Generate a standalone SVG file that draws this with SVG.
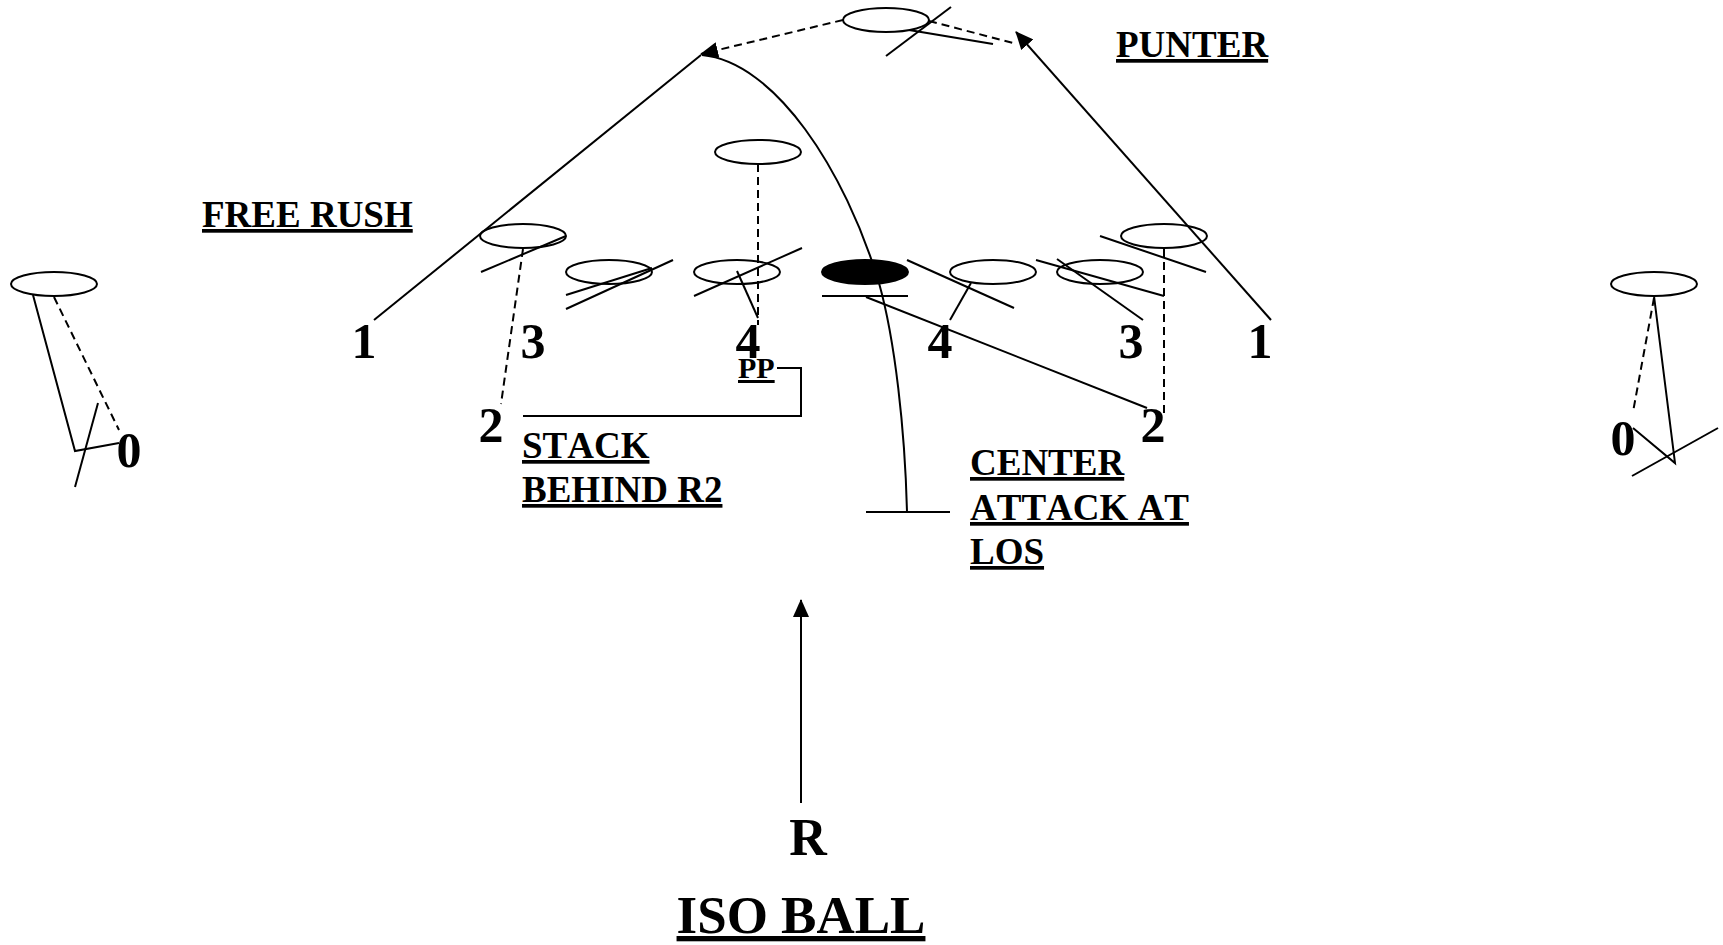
<svg xmlns="http://www.w3.org/2000/svg" width="1723" height="945" viewBox="0 0 1723 945">
<style>
.pl{fill:none;stroke:#000;stroke-width:2}
.ln{fill:none;stroke:#000;stroke-width:2}
.ds{fill:none;stroke:#000;stroke-width:2;stroke-dasharray:8,5}
.t{font-family:"Liberation Serif","Times New Roman",serif;font-weight:bold;fill:#000;font-kerning:none}
.num{font-size:50px;text-anchor:middle}
.lab{font-size:37px;text-decoration:underline}
</style>
<defs>
<marker id="ah" markerUnits="userSpaceOnUse" markerWidth="18" markerHeight="16" viewBox="0 0 18 16" refX="17" refY="8" orient="auto">
<path d="M0,0 L18,8 L0,16 Z" fill="#000"/>
</marker>
</defs>
<rect width="1723" height="945" fill="#fff"/>

<g id="connectors">
<line class="ln" x1="374" y1="320" x2="701" y2="55"/>
<line class="ds" x1="843" y1="20" x2="701" y2="54" marker-end="url(#ah)"/>
<line class="ds" x1="929" y1="21" x2="1017" y2="44"/>
<line class="ln" x1="1271" y1="320" x2="1016" y2="32" marker-end="url(#ah)"/>
<path class="ln" d="M702,55 C775,62 845,170 879,283 C895,340 905,430 907,512"/>
<line class="ln" x1="866" y1="512" x2="950" y2="512"/>
<line class="ln" x1="866" y1="297" x2="1147" y2="408"/>
<line class="ln" x1="801" y1="803" x2="801" y2="600" marker-end="url(#ah)"/>
<polyline class="ln" points="777,368 801,368 801,416 523,416"/>
<line class="ds" x1="523" y1="249" x2="501" y2="404"/>
<line class="ds" x1="758" y1="164" x2="758" y2="325"/>
<line class="ds" x1="1164" y1="249" x2="1164" y2="413"/>
<line class="ds" x1="54" y1="297" x2="119" y2="430"/>
<line class="ds" x1="1654" y1="298" x2="1633" y2="412"/>
</g>

<g id="punter">
<ellipse class="pl" cx="886" cy="20" rx="43" ry="12"/>
<line class="ln" x1="886" y1="56" x2="951" y2="7"/>
<line class="ln" x1="909" y1="30" x2="993" y2="44"/>
</g>
<g id="pp-back">
<ellipse class="pl" cx="758" cy="152" rx="43" ry="12"/>
</g>
<g id="left-3">
<ellipse class="pl" cx="523" cy="236" rx="43" ry="12"/>
<line class="ln" x1="481" y1="272" x2="566" y2="236"/>
</g>
<g id="left-e2">
<ellipse class="pl" cx="609" cy="272" rx="43" ry="12"/>
<line class="ln" x1="566" y1="295" x2="652" y2="268"/>
<line class="ln" x1="566" y1="309" x2="673" y2="260"/>
</g>
<g id="left-4">
<ellipse class="pl" cx="737" cy="272" rx="43" ry="12"/>
<line class="ln" x1="694" y1="296" x2="802" y2="248"/>
<line class="ln" x1="737" y1="271" x2="758" y2="318"/>
</g>
<g id="center">
<ellipse cx="865" cy="272" rx="43" ry="12" fill="#000" stroke="#000" stroke-width="2"/>
<line class="ln" x1="822" y1="296" x2="908" y2="296"/>
</g>
<g id="right-4">
<ellipse class="pl" cx="993" cy="272" rx="43" ry="12"/>
<line class="ln" x1="907" y1="260" x2="1014" y2="308"/>
<line class="ln" x1="971" y1="283" x2="950" y2="320"/>
</g>
<g id="right-3">
<ellipse class="pl" cx="1100" cy="272" rx="43" ry="12"/>
<line class="ln" x1="1036" y1="260" x2="1164" y2="296"/>
<line class="ln" x1="1057" y1="259" x2="1143" y2="320"/>
</g>
<g id="right-2">
<ellipse class="pl" cx="1164" cy="236" rx="43" ry="12"/>
<line class="ln" x1="1100" y1="236" x2="1206" y2="272"/>
</g>
<g id="left-0">
<ellipse class="pl" cx="54" cy="284" rx="43" ry="12"/>
<polyline class="ln" points="33,295 75,451 119,443"/>
<line class="ln" x1="98" y1="403" x2="75" y2="487"/>
<text class="t num" x="129" y="467">0</text>
</g>
<g id="right-0">
<ellipse class="pl" cx="1654" cy="284" rx="43" ry="12"/>
<polyline class="ln" points="1654,296 1675,463 1633,428"/>
<line class="ln" x1="1632" y1="476" x2="1718" y2="428"/>
<text class="t num" x="1623" y="455">0</text>
</g>

<g id="labels">
<text class="t num" x="364" y="358">1</text>
<text class="t num" x="533" y="358">3</text>
<text class="t num" x="748" y="358">4</text>
<text class="t num" x="940" y="358">4</text>
<text class="t num" x="1131" y="358">3</text>
<text class="t num" x="1260" y="358">1</text>
<text class="t num" x="491" y="442">2</text>
<text class="t num" x="1153" y="442">2</text>
<text class="t num" x="808" y="855" style="font-size:52px">R</text>
<text class="t" x="801" y="933" style="font-size:53px;text-anchor:middle;text-decoration:underline">ISO BALL</text>
<text class="t lab" x="202" y="227">FREE RUSH</text>
<text class="t lab" x="1116" y="57">PUNTER</text>
<text class="t" x="738" y="378" style="font-size:30px;text-decoration:underline">PP</text>
<text class="t lab" x="522" y="458">STACK</text>
<text class="t lab" x="522" y="502">BEHIND R2</text>
<text class="t lab" x="970" y="475">CENTER</text>
<text class="t lab" x="970" y="520">ATTACK AT</text>
<text class="t lab" x="970" y="564">LOS</text>
</g>
</svg>
